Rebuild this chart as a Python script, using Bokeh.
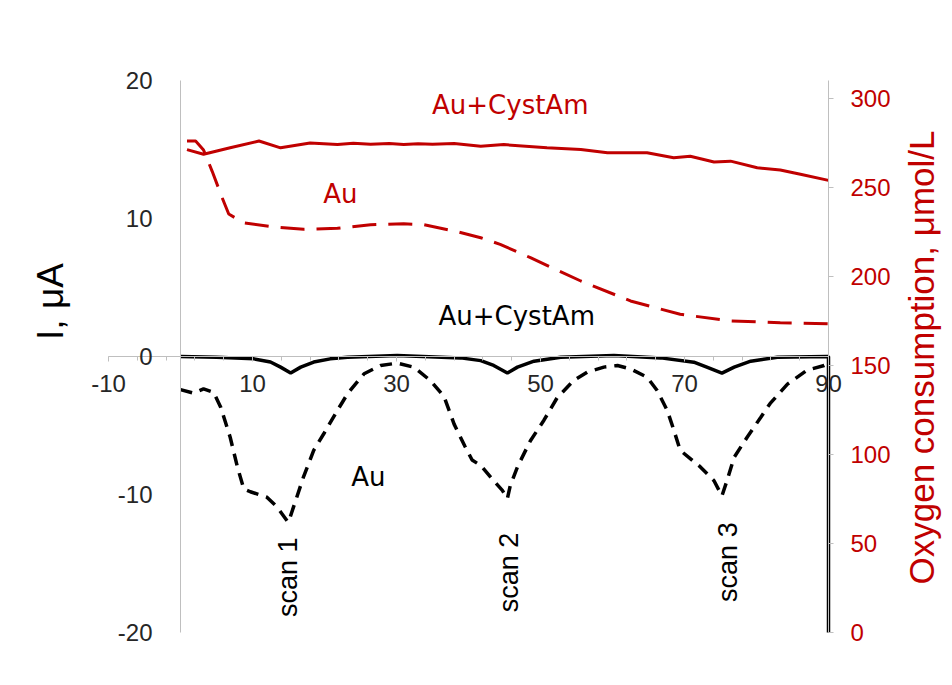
import math
from bokeh.plotting import figure
from bokeh.models import Range1d, LinearAxis, FixedTicker, Label
from bokeh.core.properties import value
from bokeh.embed import file_html
from bokeh.resources import INLINE

# ---- data ----
# Oxygen consumption (right axis, umol/L)
o2_cyst_x = [0.9, 3.2, 6.9, 10.9, 13.9, 18.0, 21.8, 24.0, 26.4, 29.0, 31.0, 33.0, 35.0, 38.0, 41.7,
             44.9, 50.9, 55.6, 59.3, 64.8, 68.5, 70.8, 74.1, 76.4, 80.1, 83.3, 86.1, 90.0]
o2_cyst_y = [271.2, 268.6, 272.2, 276.0, 272.2, 274.9, 274.0, 274.8, 274.2, 274.6, 274.0, 274.5, 274.2, 274.6, 273.1,
             274.0, 272.2, 271.3, 269.4, 269.4, 266.6, 267.5, 264.2, 264.7, 261.0, 259.7, 257.3, 253.9]
o2_au_x = [0.9, 2.1, 3.2, 4.4, 5.8, 6.7, 8.8, 12.5, 17.1, 21.8, 26.4, 31.0, 33.8, 38.0, 41.7,
           44.4, 48.6, 55.6, 62.5, 69.4, 76.4, 83.3, 90.0]
o2_au_y = [276.0, 276.0, 271.0, 259.0, 244.0, 235.0, 230.0, 228.0, 226.4, 227.0, 229.0, 229.5, 229.0, 225.5, 221.7,
           218.0, 210.5, 197.4, 186.2, 178.7, 175.0, 174.0, 173.4]

# Current (left axis, uA)
i_au_x = [0.0, 1.85, 3.2, 4.6, 5.6, 6.9, 7.9, 8.8, 9.7, 12.0, 13.4, 14.8, 15.0, 15.7, 17.1, 18.5, 19.9,
          21.8, 23.2, 25.5, 27.8, 30.1, 32.4, 34.7, 36.6, 38.0, 39.5, 40.5, 41.7, 43.5, 44.7, 45.4, 45.8,
          46.8, 48.6, 50.5, 52.3, 54.6, 56.5, 58.8, 60.7, 62.5, 64.8, 66.2, 67.6, 68.5, 69.4, 70.8, 72.2,
          74.1, 75.2, 75.9, 76.9, 78.7, 80.6, 81.9, 84.3, 87.0, 89.4, 90.0]
i_au_y = [-2.4, -2.66, -2.35, -2.6, -3.7, -5.85, -8.0, -9.6, -9.8, -10.2, -10.9, -11.9, -12.0, -10.9, -8.7, -6.8, -5.6,
          -3.9, -2.7, -1.25, -0.65, -0.48, -0.77, -1.74, -2.9, -4.9, -6.5, -7.5, -7.9, -9.0, -9.7, -10.3, -9.35,
          -8.0, -6.1, -4.6, -3.0, -1.74, -1.13, -0.77, -0.65, -0.9, -1.5, -2.46, -3.9, -5.3, -6.8, -7.4, -8.0,
          -9.0, -10.1, -9.0, -7.3, -5.85, -4.4, -3.4, -2.0, -1.0, -0.65, -0.5]
i_cyst_x = [0.0, 5.0, 10.2, 12.5, 13.9, 15.3, 16.7, 18.5, 20.8, 23.2, 30.1, 38.9, 41.7, 43.5, 45.4, 46.8,
            49.1, 52.8, 60.2, 66.7, 71.3, 73.1, 75.2, 76.9, 79.2, 82.9, 89.8, 90.0, 90.0]
i_cyst_y = [0.0, -0.05, -0.17, -0.4, -0.77, -1.2, -0.77, -0.4, -0.17, -0.05, 0.07, -0.1, -0.3, -0.65, -1.2, -0.77,
            -0.34, -0.05, 0.07, -0.1, -0.41, -0.77, -1.2, -0.77, -0.34, -0.05, 0.0, 0.0, -20.0]

x_ticks = [-10, 10, 30, 50, 70, 90]
x_tick_labels = ["-10", "10", "30", "50", "70", "90"]
x_minor_ticks = [-10, -6, -2, 2, 6, 10, 14, 18, 22, 26, 30, 34, 38, 42, 46, 50, 54, 58, 62, 66, 70, 74, 78, 82, 86, 90]
y_left_ticks = [-20, -10, 0, 10, 20]
y_left_labels = ["-20", "-10", "0", "10", "20"]
y_right_ticks = [0, 50, 100, 150, 200, 250, 300]

red_labels = ["Au+CystAm", "Au"]
red_label_x = [45.8, 22.2]
red_label_y = [18.19, 11.8]
black_labels = ["Au+CystAm", "Au"]
black_label_x = [46.7, 26.1]
black_label_y = [2.9, -8.7]
scan_labels = ["scan 1", "scan 2", "scan 3"]
scan_x = [14.9, 45.6, 76.1]
scan_y = [-16.0, -15.65, -14.9]

RED = "#C00000"
GREY = "#BFBFBF"
TICKC = "#262626"

W, H = 944, 677
# pixel mapping: x=0 -> 180 px, 7.2 px/unit; y=0 -> 356 px, 13.8 px/unit; O2 0 -> 632 px, 552/310 px/unit
XPX, X0 = 7.2, 180.0
YPX, Y0 = 13.8, 356.0
OPX, O0 = 552.0 / 310.0, 632.0

p = figure(width=W, height=H, output_backend="svg", toolbar_location=None,
           x_range=Range1d(-X0 / XPX, (W - X0) / XPX),
           y_range=Range1d(-(H - Y0) / YPX, Y0 / YPX),
           min_border=0, min_border_left=0, min_border_right=0, min_border_top=0, min_border_bottom=0)
p.extra_y_ranges = {"o2": Range1d(-(H - O0) / OPX, O0 / OPX)}
p.grid.visible = False
p.outline_line_color = None
p.background_fill_color = "white"
p.border_fill_color = "white"

# x axis crossing at y = 0
xa = p.xaxis[0]
xa.fixed_location = 0
xa.bounds = (-10, 90)
xa.ticker = FixedTicker(ticks=x_ticks, minor_ticks=x_minor_ticks)
xa.major_label_overrides = {t: s for t, s in zip(x_ticks, x_tick_labels)}
xa.axis_line_color = GREY
xa.axis_line_width = 1
xa.major_tick_line_color = GREY
xa.minor_tick_line_color = GREY
xa.major_tick_out = 5
xa.major_tick_in = 0
xa.minor_tick_out = 4
xa.minor_tick_in = 0
xa.major_label_standoff = 13
xa.major_label_text_font = "Liberation Sans"
xa.major_label_text_font_size = "24px"
xa.major_label_text_color = TICKC

# left y axis crossing at x = 0
ya = p.yaxis[0]
ya.fixed_location = 0
ya.bounds = (-20, 20)
ya.ticker = FixedTicker(ticks=y_left_ticks, minor_ticks=[])
ya.major_label_overrides = {t: s for t, s in zip(y_left_ticks, y_left_labels)}
ya.axis_line_color = GREY
ya.major_tick_line_color = None
ya.minor_tick_line_color = None
ya.major_label_standoff = 22
ya.major_label_text_font = "Liberation Sans"
ya.major_label_text_font_size = "24px"
ya.major_label_text_color = TICKC

# right axis at x = 90
ra = LinearAxis(y_range_name="o2", ticker=FixedTicker(ticks=y_right_ticks, minor_ticks=[]))
ra.fixed_location = 90
ra.bounds = (0, 310)
ra.axis_line_color = GREY
ra.major_tick_line_color = GREY
ra.major_tick_out = 5
ra.major_tick_in = 0
ra.minor_tick_line_color = None
ra.major_label_standoff = 17
ra.major_label_text_font = "Liberation Sans"
ra.major_label_text_font_size = "24px"
ra.major_label_text_color = RED
p.add_layout(ra, "right")

# data lines
p.line(o2_cyst_x, o2_cyst_y, y_range_name="o2", line_color=RED, line_width=3)
p.line(o2_au_x, o2_au_y, y_range_name="o2", line_color=RED, line_width=3, line_dash="24 12")
p.line(i_au_x, i_au_y, line_color="black", line_width=3.5, line_dash="12 8")
p.line(i_cyst_x, i_cyst_y, line_color="black", line_width=3.5)

# annotations
p.text(red_label_x, red_label_y, text=red_labels, text_color=RED,
       text_font=value("DejaVu Sans"), text_font_size=value("26px"),
       text_align="center", text_baseline="middle")
p.text(black_label_x, black_label_y, text=black_labels, text_color="black",
       text_font=value("DejaVu Sans"), text_font_size=value("26px"),
       text_align="center", text_baseline="middle")
p.text(scan_x, scan_y, text=scan_labels, text_color="black", angle=math.pi / 2,
       text_font=value("Liberation Sans"), text_font_size=value("27px"),
       text_align="center", text_baseline="middle")

# axis titles
p.add_layout(Label(x=(50 - X0) / XPX, y=(Y0 - 301) / YPX, text="I, μA", angle=math.pi / 2,
                   text_align="center", text_baseline="alphabetic",
                   text_font="Liberation Sans", text_font_size="37px", text_color="black"))
p.add_layout(Label(x=(921 - X0) / XPX, y=(Y0 - 357) / YPX, text="Oxygen consumption, μmol/L",
                   angle=math.pi / 2, text_align="center", text_baseline="middle",
                   text_font="Liberation Sans", text_font_size="35px", text_color=RED))

open("out.html", "w").write(file_html(p, INLINE))
